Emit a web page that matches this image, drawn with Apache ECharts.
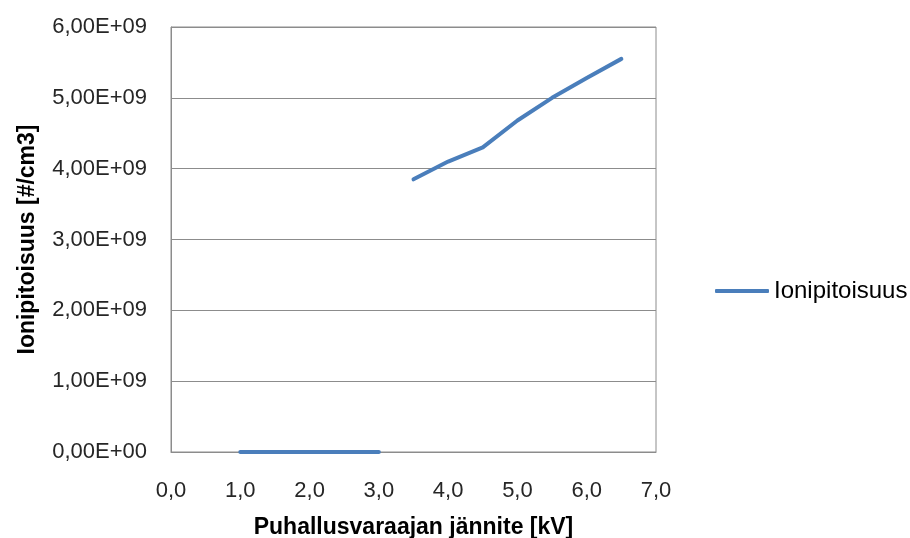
<!DOCTYPE html>
<html><head><meta charset="utf-8">
<script src="https://cdn.jsdelivr.net/npm/echarts@6/dist/echarts.min.js"></script>
<style>html,body{margin:0;padding:0;background:#fff}#c{width:910px;height:538px}</style>
</head><body><div id="c"></div>
<script>
const seriesName = 'Ionipitoisuus';
const xValues = [1.0, 1.5, 2.0, 2.5, 3.0, 3.25, 3.5, 4.0, 4.5, 5.0, 5.5, 6.0, 6.5];
const yValues = [0, 0, 0, 0, 0, '-', 3.85e9, 4.10e9, 4.30e9, 4.68e9, 5.00e9, 5.28e9, 5.55e9];
const xTitle = 'Puhallusvaraajan jännite [kV]';
const yTitle = 'Ionipitoisuus [#/cm3]';

const font = 'Liberation Sans, Arial, sans-serif';
const txt = '#262626';
const chart = echarts.init(document.getElementById('c'));
chart.setOption({
  animation: false,
  grid: {left: 171, right: 254, top: 27, bottom: 86, show: true, borderColor: '#8c8c8c', borderWidth: 1,
    containLabel: false, outerBoundsMode: 'none'},
  legend: {
    data: [seriesName], left: 710, top: 274, icon: 'roundRect', itemWidth: 54, itemHeight: 4, itemGap: 4,
    textStyle: {fontFamily: font, fontSize: 24, color: '#000'}
  },
  xAxis: {
    type: 'value', min: 0, max: 7, interval: 1,
    name: xTitle, nameLocation: 'middle', nameGap: 64,
    nameTextStyle: {fontFamily: font, fontSize: 23, fontWeight: 'bold', color: '#000'},
    axisLine: {show: true, lineStyle: {color: '#8c8c8c'}},
    axisTick: {show: false},
    splitLine: {show: false},
    axisLabel: {fontFamily: font, fontSize: 22, color: txt, margin: 28,
      formatter: v => v.toFixed(1).replace('.', ',')}
  },
  yAxis: {
    type: 'value', min: 0, max: 6e9, interval: 1e9,
    name: yTitle, nameLocation: 'middle', nameGap: 132,
    nameTextStyle: {fontFamily: font, fontSize: 23, fontWeight: 'bold', color: '#000'},
    axisLine: {show: true, lineStyle: {color: '#8c8c8c'}},
    axisTick: {show: false},
    splitLine: {show: true, lineStyle: {color: '#8c8c8c'}},
    axisLabel: {fontFamily: font, fontSize: 22, color: txt, margin: 24,
      formatter: v => v === 0 ? '0,00E+00' : (v / 1e9).toFixed(2).replace('.', ',') + 'E+09'}
  },
  series: [{
    name: seriesName, type: 'line', showSymbol: false, connectNulls: false,
    data: xValues.map((x, i) => [x, yValues[i]]),
    lineStyle: {color: '#4a7ebb', width: 4, cap: 'round', join: 'round'},
    itemStyle: {color: '#4a7ebb'}
  }]
});
</script></body></html>
